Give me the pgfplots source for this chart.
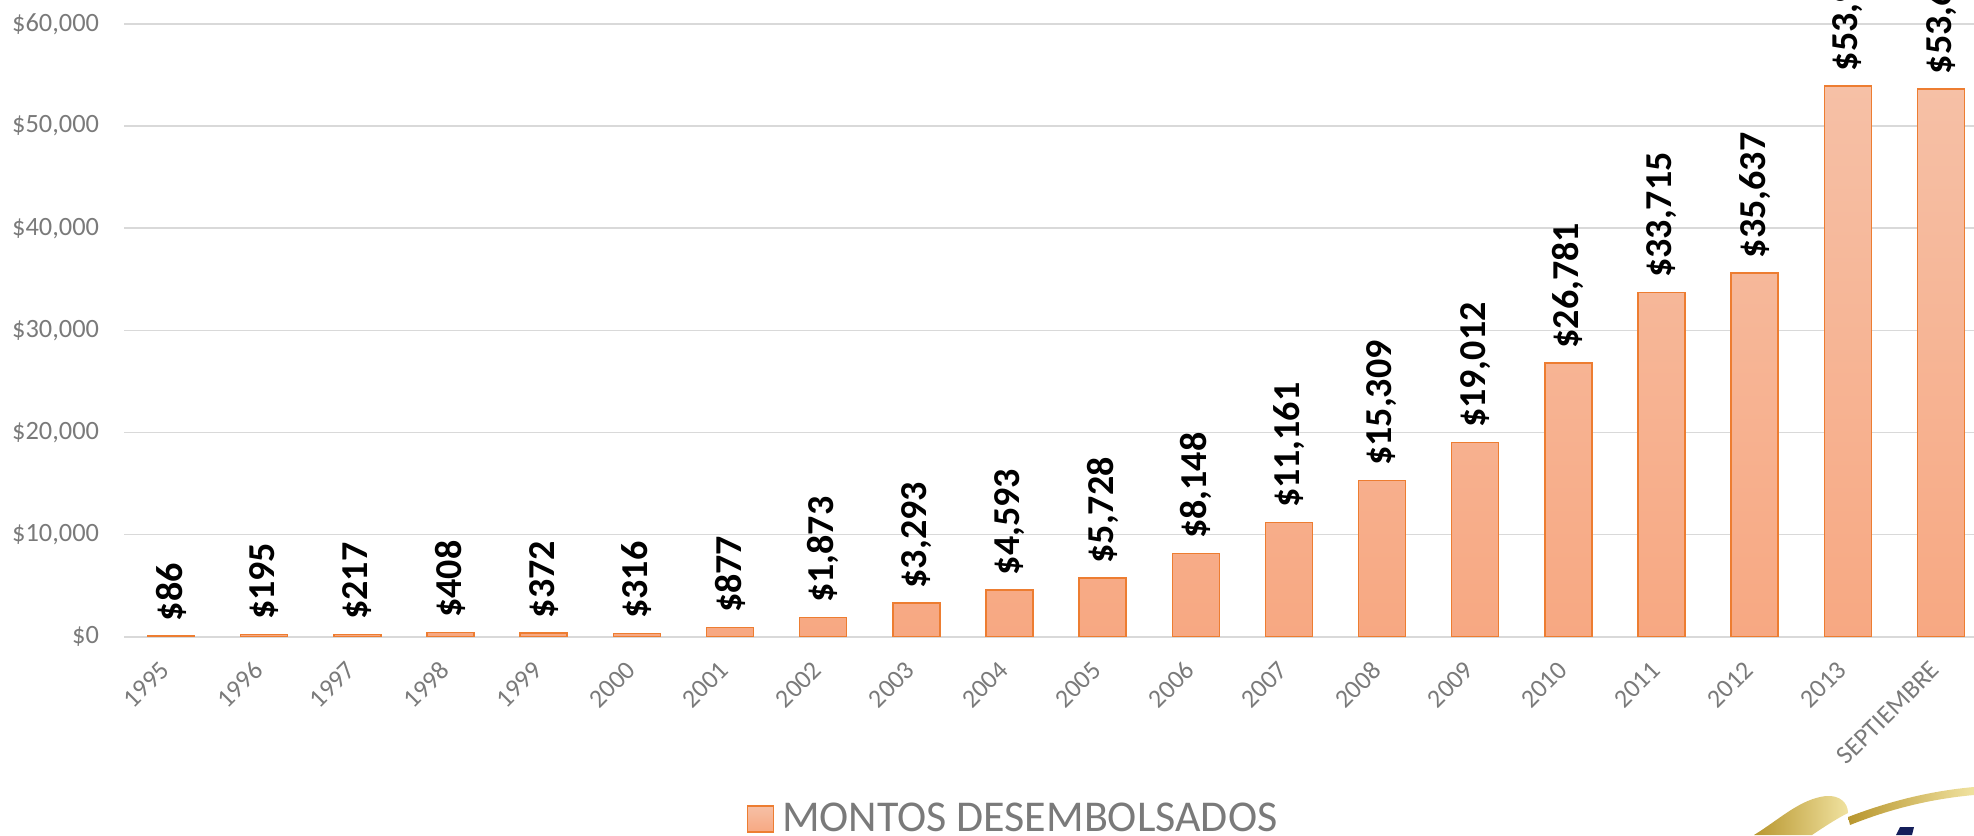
\documentclass[border=0pt]{standalone}
\usepackage{pgfplots}
\pgfplotsset{compat=1.18}
\usepackage{fontspec}
\setmainfont{Carlito}
\definecolor{barO}{RGB}{237,125,49}
\definecolor{barTop}{RGB}{246,192,166}
\definecolor{barBot}{RGB}{247,168,130}
\definecolor{gridc}{RGB}{217,217,217}
\definecolor{txtg}{RGB}{122,122,122}
\definecolor{goldA}{RGB}{184,150,46}
\definecolor{goldB}{RGB}{240,226,160}
\definecolor{navy}{RGB}{20,30,90}
\pgfkeys{/pgf/number format/.cd, fixed, precision=0, 1000 sep={,}, assume math mode=true}
\begin{document}
\begin{tikzpicture}
\path[use as bounding box] (0,0) rectangle (987pt,417.5pt);
\clip (0,0) rectangle (987pt,417.5pt);
\begin{axis}[
  at={(62.2pt,99.15pt)}, anchor=south west,
  scale only axis, width=931.6pt, height=306.35pt,
  xmin=-0.5, xmax=19.5, ymin=0, ymax=60000,
  clip=false,
  ybar, bar width=23.5pt,
  axis lines*=left,
  x axis line style={-, draw=gridc, line width=1pt},
  y axis line style={draw=none},
  major tick length=0pt,
  xtick=data,
  xticklabels={1995,1996,1997,1998,1999,2000,2001,2002,2003,2004,2005,2006,2007,2008,2009,2010,2011,2012,2013,SEPTIEMBRE},
  xticklabel style={font=\fontsize{13}{15}\selectfont, text=txtg, inner sep=0pt, xshift=-6pt, yshift=-11.3pt, rotate=45, anchor=north east},
  ytick={0,10000,20000,30000,40000,50000,60000},
  scaled y ticks=false,
  yticklabel={\$\pgfmathprintnumber{\tick}},
  yticklabel style={font=\fontsize{13.2}{15}\selectfont, text=txtg, anchor=east, inner sep=0pt, xshift=-12.5pt},
  ymajorgrids, major grid style={gridc, line width=0.75pt},
  nodes near coords={\$\pgfmathprintnumber{\pgfplotspointmeta}},
  every node near coord/.append style={rotate=90, anchor=west, inner sep=0pt, inner xsep=7pt, font=\fontsize{19}{23}\selectfont\bfseries, text=black},
  legend style={at={(0.3337,-0.2975)}, anchor=west, draw=none, fill=none, inner sep=0pt, font=\fontsize{22}{26}\selectfont, text=txtg},
]
\addplot[draw=barO, line width=0.75pt, top color=barTop, bottom color=barBot,
  legend image code/.code={\draw[barO, line width=0.75pt, top color=barTop, bottom color=barBot] (0pt,-6.5pt) rectangle (13pt,6.5pt); \path (15pt,0pt);}]
  coordinates {(0,86) (1,195) (2,217) (3,408) (4,372) (5,316) (6,877) (7,1873) (8,3293) (9,4593) (10,5728) (11,8148) (12,11161) (13,15309) (14,19012) (15,26781) (16,33715) (17,35637) (18,53950) (19,53650)};
\addlegendentry{MONTOS DESEMBOLSADOS}
\end{axis}
% logo fragment (bottom right)
\shade[left color=goldA, right color=goldB] (877pt,0pt) .. controls (890pt,8pt) and (900pt,18pt) .. (913pt,19.5pt) .. controls (920pt,20pt) and (924pt,16pt) .. (924pt,11pt) .. controls (918pt,8pt) and (912pt,4pt) .. (906pt,0pt) -- cycle;
\shade[left color=goldA, right color=goldB] (924pt,9pt) .. controls (945pt,17pt) and (965pt,22pt) .. (987pt,24pt) -- (987pt,20pt) .. controls (965pt,18pt) and (945pt,13pt) .. (925pt,5pt) -- cycle;
\fill[navy] (948pt,0pt) -- (950pt,4pt) -- (957pt,4pt) -- (956pt,0pt) -- cycle;
\end{tikzpicture}
\end{document}
